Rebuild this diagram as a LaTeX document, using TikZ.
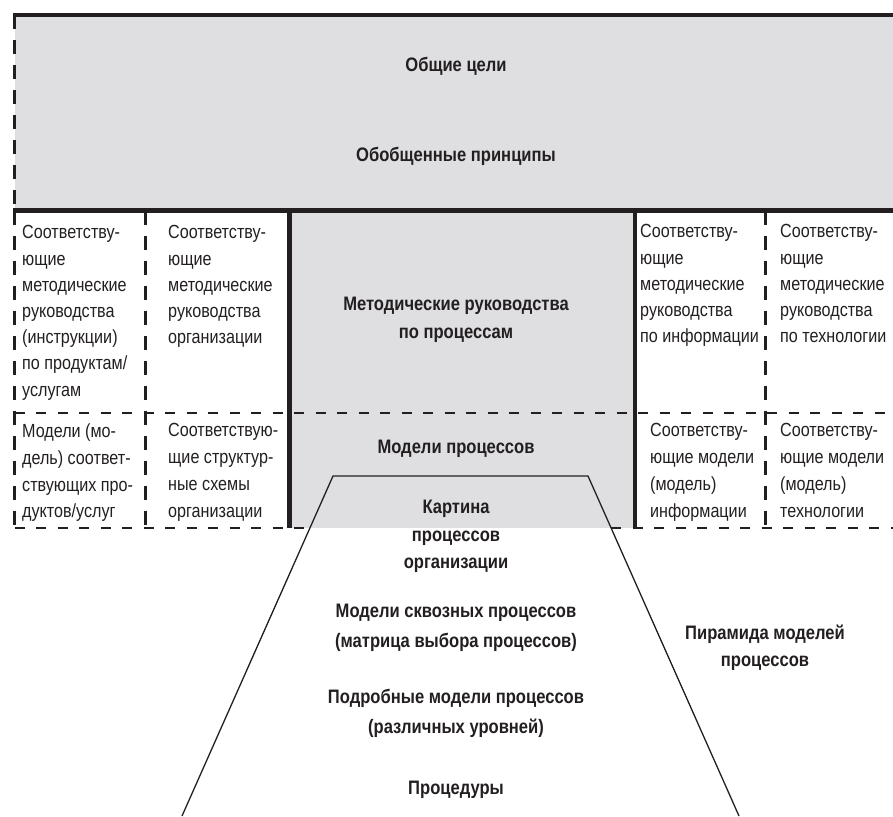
\documentclass[tikz,border=0pt]{standalone}
\usepackage{fontspec}
\newfontfamily\condfont{Liberation Sans}[FakeStretch=0.85]
\definecolor{ink}{RGB}{35,31,32}
\definecolor{panel}{RGB}{223,223,226}
\tikzset{
  cell/.style={anchor=north west, inner sep=0pt, align=left, text=ink,
    font=\condfont\fontsize{19}{26.2}\selectfont},
  lowcell/.style={cell, font=\condfont\fontsize{19}{26.8}\selectfont},
  heading/.style={anchor=base, inner sep=0pt, text=ink,
    font=\condfont\bfseries\fontsize{19.5}{22}\selectfont},
  frame/.style={draw=ink, line width=4.5pt},
  hdash/.style={draw=ink, line width=2.7pt, dash pattern=on 10pt off 11.5pt},
  vdash/.style={draw=ink, line width=2.7pt, dash pattern=on 14pt off 11pt},
  pyramid/.style={draw=ink, line width=1.3pt}
}
\begin{document}
\begin{tikzpicture}[x=1pt, y=-1pt]
\useasboundingbox (0,0) rectangle (893,816);

% corner points of the frame
\coordinate (tl) at (14.5,15);
\coordinate (tr) at (893,15);
\coordinate (ml) at (14.5,210.5);
\coordinate (mr) at (893,210.5);
\coordinate (cl) at (289.5,210.5);
\coordinate (cr) at (635,210.5);
\coordinate (clb) at (289.5,528);
\coordinate (crb) at (635,528);

% grey panels: general layer and process column
\fill[panel] (tl) rectangle (mr);
\fill[panel] (cl) rectangle (crb);

% dashed cell borders
\draw[vdash] (tl) -- (ml);
\draw[vdash] (ml) -- (14.5,528);
\draw[vdash] (145.5,210.5) -- (145.5,528);
\draw[vdash] (765.5,210.5) -- (765.5,528);
\draw[hdash] (14.5,413) -- (893,413);
\draw[hdash] (14.5,528) -- (310,528);
\draw[hdash] (611,528) -- (893,528);

% solid borders
\draw[frame] (13,15) -- (tr);
\draw[frame] (13,210.5) -- (mr);
\draw[frame] (cl) -- (clb);
\draw[frame] (cr) -- (crb);

% pyramid of process models
\coordinate (pa) at (333,476);
\coordinate (pb) at (588,476);
\coordinate (pc) at (739,816);
\coordinate (pd) at (182,816);
\draw[pyramid] (pd) -- (pa) -- (pb) -- (pc);

% general layer
\node[heading] (goals) at (456,71) {Общие цели};
\node[heading] (principles) at (456,161) {Обобщенные принципы};

% upper row of cells
\node[cell] (guideprod) at (22,225.5) {Соответству-\\ющие\\методические\\руководства\\(инструкции)\\по продуктам/\\услугам};
\node[cell] (guideorg) at (168,225.5) {Соответству-\\ющие\\методические\\руководства\\организации};
\node[heading] (guideproc1) at (456,310) {Методические руководства};
\node[heading] (guideproc2) at (456,338) {по процессам};
\node[cell] (guideinfo) at (640,224.5) {Соответству-\\ющие\\методические\\руководства\\по информации};
\node[cell] (guidetech) at (780,224.5) {Соответству-\\ющие\\методические\\руководства\\по технологии};

% lower row of cells
\node[lowcell] (modprod) at (22,423.5) {Модели (мо-\\дель) соответ-\\ствующих про-\\дуктов/услуг};
\node[lowcell] (modorg) at (168,423.5) {Соответствую-\\щие структур-\\ные схемы\\организации};
\node[heading] (modproc) at (456,453) {Модели процессов};
\node[lowcell] (modinfo) at (650,423.5) {Соответству-\\ющие модели\\(модель)\\информации};
\node[lowcell] (modtech) at (780,423.5) {Соответству-\\ющие модели\\(модель)\\технологии};

% levels of the pyramid
\node[heading] (pic1) at (456,513) {Картина};
\node[heading] (pic2) at (456,541) {процессов};
\node[heading] (pic3) at (456,568) {организации};
\node[heading] (e2e1) at (456,617) {Модели сквозных процессов};
\node[heading] (e2e2) at (456,647) {(матрица выбора процессов)};
\node[heading] (det1) at (456,703) {Подробные модели процессов};
\node[heading] (det2) at (456,733) {(различных уровней)};
\node[heading] (proc) at (456,794) {Процедуры};
\node[heading] (pyr1) at (765,639) {Пирамида моделей};
\node[heading] (pyr2) at (765,666) {процессов};
\end{tikzpicture}
\end{document}
